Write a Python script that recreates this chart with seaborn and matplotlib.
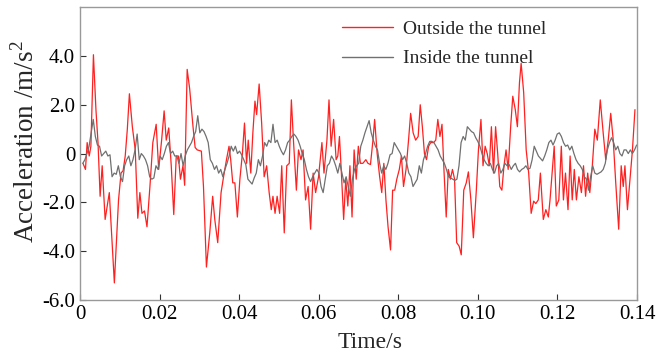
import numpy as np
import pandas as pd
import matplotlib
matplotlib.use("Agg")
import matplotlib.pyplot as plt
import seaborn as sns

# ---- data ----
outside_t = [
    0.00074, 0.00137, 0.00179, 0.00231, 0.00273, 0.00337, 0.00400, 0.00452, 0.00505, 0.00557,
    0.00631, 0.00736, 0.00863, 0.00968, 0.01031, 0.01083, 0.01136, 0.01189, 0.01241, 0.01315,
    0.01388, 0.01452, 0.01504, 0.01557, 0.01620, 0.01683, 0.01757, 0.01830, 0.01914, 0.01977,
    0.02051, 0.02114, 0.02167, 0.02230, 0.02293, 0.02356, 0.02419, 0.02472, 0.02524, 0.02588,
    0.02630, 0.02693, 0.02756, 0.02840, 0.02893, 0.02945, 0.03050, 0.03103, 0.03177, 0.03261,
    0.03334, 0.03387, 0.03461, 0.03545, 0.03608, 0.03681, 0.03745, 0.03787, 0.03839, 0.03892,
    0.03955, 0.04018, 0.04081, 0.04134, 0.04186, 0.04228, 0.04292, 0.04344, 0.04397, 0.04439,
    0.04502, 0.04565, 0.04628, 0.04691, 0.04754, 0.04807, 0.04849, 0.04902, 0.04954, 0.05017,
    0.05070, 0.05133, 0.05196, 0.05259, 0.05312, 0.05364, 0.05438, 0.05491, 0.05554, 0.05606,
    0.05669, 0.05733, 0.05796, 0.05859, 0.05922, 0.05995, 0.06080, 0.06132, 0.06206, 0.06258,
    0.06311, 0.06374, 0.06437, 0.06479, 0.06521, 0.06574, 0.06626, 0.06679, 0.06731, 0.06784,
    0.06837, 0.06889, 0.06942, 0.06995, 0.07047, 0.07110, 0.07184, 0.07237, 0.07300, 0.07363,
    0.07405, 0.07468, 0.07531, 0.07584, 0.07636, 0.07689, 0.07742, 0.07805, 0.07857, 0.07910,
    0.07962, 0.08025, 0.08078, 0.08131, 0.08194, 0.08257, 0.08310, 0.08373, 0.08436, 0.08499,
    0.08551, 0.08604, 0.08657, 0.08709, 0.08762, 0.08815, 0.08888, 0.08941, 0.08993, 0.09046,
    0.09098, 0.09151, 0.09204, 0.09256, 0.09309, 0.09361, 0.09414, 0.09467, 0.09530, 0.09582,
    0.09645, 0.09708, 0.09761, 0.09824, 0.09887, 0.09961, 0.10014, 0.10077, 0.10129, 0.10182,
    0.10235, 0.10287, 0.10340, 0.10393, 0.10445, 0.10498, 0.10550, 0.10603, 0.10656, 0.10708,
    0.10761, 0.10824, 0.10877, 0.10940, 0.10993, 0.11045, 0.11087, 0.11151, 0.11214, 0.11277,
    0.11339, 0.11402, 0.11455, 0.11518, 0.11571, 0.11644, 0.11708, 0.11771, 0.11813, 0.11865,
    0.11918, 0.11971, 0.12034, 0.12097, 0.12150, 0.12202, 0.12265, 0.12318, 0.12371, 0.12423,
    0.12476, 0.12539, 0.12602, 0.12655, 0.12707, 0.12760, 0.12813, 0.12876, 0.12939, 0.13002,
    0.13076, 0.13149, 0.13213, 0.13276, 0.13339, 0.13402, 0.13465, 0.13539, 0.13602, 0.13654,
    0.13696, 0.13759, 0.13822, 0.13885, 0.13948,
]
outside_vals = [
    -0.4, -0.65, 0.45, -0.1, 0.3, 4.05, 1.8, 0.45, -1.75, -0.5,
    -2.7, -1.6, -5.3, -1.9, -0.8, -0.7, -0.1, 1.0, 2.45, 1.1,
    0.15, -2.65, -1.6, -2.45, -2.35, -3.0, -1.35, 0.45, 1.2, -0.65,
    0.55, 1.75, 0.55, 1.05, -0.5, -2.5, -0.1, -0.1, -1.05, -0.5,
    -1.3, 3.45, 2.65, 1.1, 0.25, 0.15, 0.1, -1.35, -4.65, -3.25,
    -1.75, -2.7, -3.65, -1.6, -0.95, -0.25, 0.3, -0.25, -1.2, -1.2,
    -2.6, -1.05, 0.0, 1.25, -0.4, 0.55, -0.8, 0.85, 2.15, 1.6,
    2.85, 1.25, -0.95, -0.5, -1.6, -2.3, -1.75, -2.45, -1.75, -2.45,
    -0.5, -3.25, -0.5, -0.4, 2.2, 0.55, -1.5, 0.15, -0.25, 0.15,
    -1.9, -1.35, -3.1, -0.8, -1.6, -0.95, 0.45, -0.8, 0.55, 2.2,
    0.3, 1.4, -0.25, -0.1, 0.7, -0.95, -2.7, -1.05, -2.15, -0.5,
    -2.6, 0.15, -1.05, 0.3, -0.4, -0.4, -0.25, -0.4, -0.45, 0.55,
    1.4, 0.0, -0.95, -1.6, -0.4, -1.9, -3.0, -3.95, -1.5, -1.5,
    -1.05, -0.65, -0.1, -1.35, -0.65, 0.55, 1.65, 0.85, 0.55, 0.7,
    2.0, 1.1, 0.0, -0.25, 0.3, 0.45, 0.45, 0.55, 1.4, 0.7,
    1.2, -0.8, -2.6, -0.65, -1.05, -0.65, -1.05, -3.65, -3.8, -4.15,
    -1.5, -1.2, -0.75, -1.9, -3.45, -1.5, 0.15, 1.4, -0.5, 0.3,
    0.0, -0.5, 1.1, -0.8, 1.1, 0.0, -1.35, -1.5, -0.5, 0.15,
    -0.65, 1.1, 2.35, 1.8, 1.1, 2.9, 3.7, 2.5, 0.15, -0.8,
    -2.45, -1.95, -2.05, -1.9, -0.8, -2.7, -2.3, -2.6, -1.9, -0.8,
    0.3, -2.15, -1.9, 0.3, -1.9, -0.8, -2.3, -0.1, -1.9, -0.65,
    -1.9, -0.95, -1.6, -0.5, -1.75, -0.8, -1.6, -0.5, 1.0, 0.55,
    2.2, 0.85, -0.25, 0.55, 1.65, 0.55, -1.2, -3.1, -0.5, -1.35,
    -0.5, -2.3, -1.05, 0.15, 1.8,
]
inside_vals = [
    -0.4, -0.25, 0.0, 0.3, 0.85, 1.4, 0.7, 0.35, 0.3, -0.1,
    0.0, 0.1, -0.1, -0.05, -0.95, -0.8, -0.85, -0.5, -0.95, -1.15,
    -0.5, -0.25, -0.1, -0.5, -0.25, 0.15, 0.8, -0.25, 0.0, -0.1,
    -0.25, -0.5, -0.95, -1.05, -1.0, -0.5, -0.65, -0.1, -0.25, 0.0,
    0.3, 0.45, 0.0, 0.1, -0.1, -0.1, -0.4, 0.0, -0.5, -0.1,
    0.15, 0.3, 0.45, 0.7, 0.9, 1.55, 0.85, 1.0, 0.9, 0.7,
    0.45, -0.25, -0.4, -0.65, -0.5, -0.8, -0.65, -0.95, -0.65, -0.4,
    -0.1, 0.3, 0.1, 0.3, 0.0, 0.1, -0.05, -0.25, -0.45, -1.05,
    -1.15, -1.25, -1.0, -0.8, -0.25, -0.5, -0.1, 0.45, 0.3, 0.55,
    0.45, 1.2, 0.45, 0.55, 0.3, 0.1, -0.05, 0.15, 0.45, 0.55,
    0.7, 0.8, 0.7, 0.55, 0.3, 0.0, -0.25, -0.65, -0.95, -1.15,
    -0.95, -0.8, -0.65, -0.8, -1.35, -1.6, -1.05, -0.5, -0.4, -0.1,
    -0.25, -0.5, -0.8, -0.4, -0.8, -1.2, -0.95, -1.35, -1.75, -1.05,
    -0.65, -0.5, -0.4, 0.3, 0.55, 0.85, 1.1, 1.35, 0.85, 0.55,
    0.3, 0.15, -0.4, -0.8, -0.5, -0.65, -0.4, -0.05, 0.0, 0.45,
    0.3, 0.15, 0.0, -0.25, -0.1, -0.4, -0.8, -0.95, -1.35, -1.2,
    -1.05, -0.5, -0.8, -0.25, 0.0, 0.3, 0.5, 0.5, 0.45, 0.3,
    0.15, -0.1, -0.25, -0.4, -0.65, -0.95, -1.0, -1.05, -1.1, -1.05,
    -0.5, 0.45, 0.7, 0.55, 1.1, 1.0, 0.9, 0.85, 0.65, 0.5,
    0.3, 0.0, -0.25, -0.4, -0.5, -0.4, -0.65, -0.8, -0.5, -0.4,
    -0.8, -0.65, -0.4, -0.5, -0.45, -0.65, -0.5, -0.4, -0.65, -0.75,
    -0.65, -0.6, -0.5, -0.65, -0.6, -0.25, 0.3, 0.1, -0.1, -0.2,
    -0.3, -0.1, 0.15, 0.45, 0.55, 0.35, 0.55, 0.8, 0.85, 0.7,
    0.45, 0.3, 0.35, 0.15, 0.3, 0.0, -0.25, -0.4, -0.5, -0.65,
    -0.95, -1.05, -1.5, -0.95, -0.5, -0.8, -0.85, -0.8, -0.75, -0.65,
    -0.4, 0.15, 0.45, 0.65, 0.45, 0.15, 0.3, 0.0, -0.1, 0.15,
    0.15, 0.0, 0.15, 0.0, 0.15, 0.35,
]
inside_t_range = (0.0007, 0.1399)    # uniform sampling span of inside record (s)

x_ticks = [0, 0.02, 0.04, 0.06, 0.08, 0.10, 0.12, 0.14]
x_ticklabels = ["0", "0.02", "0.04", "0.06", "0.08", "0.10", "0.12", "0.14"]
y_ticks = [-6, -4, -2, 0, 2, 4]
y_ticklabels = ["-6.0", "-4.0", "-2.0", "0", "2.0", "4.0"]
series_names = ["Outside the tunnel", "Inside the tunnel"]

t_in = np.linspace(*inside_t_range, len(inside_vals))
df = pd.concat([
    pd.DataFrame({"t": outside_t, "a": outside_vals, "s": series_names[0]}),
    pd.DataFrame({"t": t_in, "a": inside_vals, "s": series_names[1]}),
], ignore_index=True)

sns.set_style("white")
plt.rcParams["font.family"] = ["Liberation Serif", "DejaVu Serif"]
plt.rcParams["mathtext.fontset"] = "custom"
plt.rcParams["mathtext.rm"] = "Liberation Serif"

fig = plt.figure(figsize=(6.57, 3.57), dpi=100)
ax = fig.add_axes([0.1218, 0.1597, 0.8478, 0.8203])

palette = {series_names[0]: "#ff2020", series_names[1]: "#707070"}
sns.lineplot(data=df, x="t", y="a", hue="s", palette=palette, linewidth=0.9,
             ax=ax, estimator=None, sort=False, hue_order=series_names)

ax.set_xlim(0, 0.14)
ax.set_ylim(-6, 6)
ax.set_xticks(x_ticks)
ax.set_xticklabels(x_ticklabels)
ax.set_yticks(y_ticks)
ax.set_yticklabels(y_ticklabels)
ax.tick_params(axis="both", direction="in", length=4, width=0.8,
               colors="#333333", labelsize=15, labelcolor="black",
               bottom=True, left=True, top=False, right=False)
for sp in ax.spines.values():
    sp.set_color("#999999")
    sp.set_linewidth(1.0)

ax.set_xlabel("Time/s", fontsize=17)
ax.set_ylabel("Acceleration /m/s$^2$", fontsize=19.5)
ax.xaxis.set_label_coords(0.52, -0.11)
ax.yaxis.set_label_coords(-0.072, 0.54)

leg = ax.legend(loc="upper right", bbox_to_anchor=(0.869, 1.014), frameon=False,
                fontsize=14, handlelength=2.6, labelspacing=0.6,
                handletextpad=0.55)
for line in leg.get_lines():
    line.set_linewidth(1.0)

fig.savefig("out.png", dpi=100)
